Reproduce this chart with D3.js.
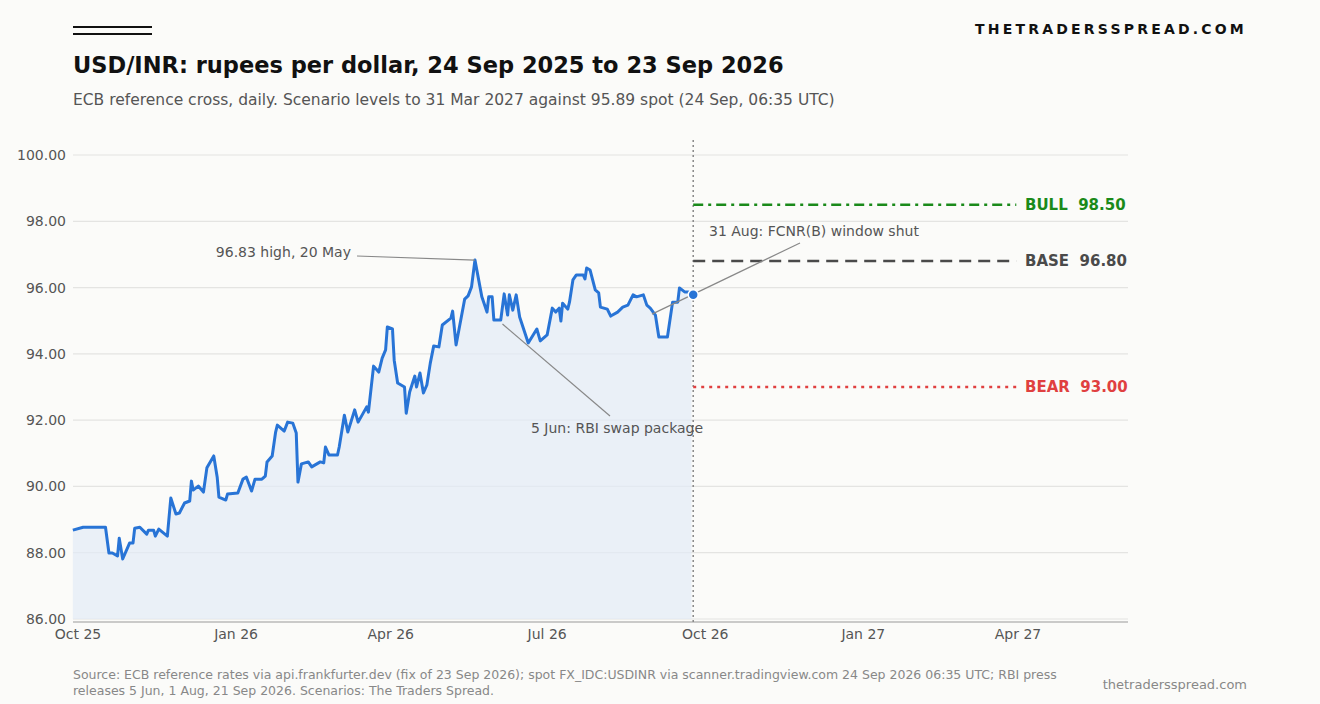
<!DOCTYPE html>
<html><head><meta charset="utf-8">
<script src="https://cdn.jsdelivr.net/npm/d3@7"></script>
<style>body{margin:0;background:#fbfbf9;font-family:"DejaVu Sans",sans-serif}</style>
</head><body><svg id="c" width="1320" height="704"></svg>
<script>
// days since 2025-10-01
const days=[-3,3,15,16,18,20,23,24,26,30,32,33,36,40,41,44,45,47,52,54,57,59,62,65,66,67,70,73,75,79,81,82,86,87,93,96,98,101,103,107,109,110,113,115,116,120,122,125,127,128,130,134,136,141,143,144,146,151,152,155,157,161,163,168,169,172,175,177,179,180,183,184,186,190,191,193,196,197,199,201,203,205,207,210,212,217,218,220,225,227,229,231,235,238,239,241,242,246,248,250,251,253,255,257,262,267,269,273,276,278,280,281,282,285,286,288,290,294,295,296,298,301,303,304,308,310,314,317,320,323,325,329,331,333,336,338,343,346,349,350,353,355,357];
const rates=[88.68,88.77,88.77,88.77,87.99,87.99,87.90,88.44,87.81,88.29,88.29,88.74,88.77,88.56,88.68,88.68,88.50,88.71,88.50,89.65,89.17,89.20,89.50,89.56,90.16,89.89,90.01,89.83,90.56,90.92,90.28,89.68,89.59,89.77,89.80,90.22,90.28,89.86,90.22,90.22,90.31,90.74,90.92,91.64,91.85,91.67,91.94,91.91,91.61,90.13,90.68,90.74,90.59,90.74,90.71,91.19,90.95,90.95,91.19,92.15,91.64,92.31,91.94,92.40,92.24,93.63,93.45,93.87,94.12,94.81,94.75,93.81,93.12,93.00,92.21,92.85,93.33,93.00,93.42,92.82,93.06,93.72,94.24,94.21,94.87,95.08,95.29,94.27,95.65,95.75,96.02,96.83,95.72,95.26,95.72,95.72,95.02,95.02,95.81,95.17,95.78,95.32,95.78,95.11,94.33,94.75,94.39,94.57,95.38,95.26,95.38,94.99,95.53,95.35,95.56,96.23,96.38,96.38,96.26,96.59,96.53,95.93,95.84,95.41,95.35,95.14,95.26,95.41,95.47,95.78,95.72,95.78,95.47,95.38,95.17,94.51,94.51,95.56,95.56,95.99,95.87,95.87,95.84];
const spotDate="2026-09-24", spotValue=95.78;
const scenNames=["BULL","BASE","BEAR"], scenValues=[98.50,96.80,93.00], scenColors=["#1a8a1a","#4a4a4a","#e04040"], scenDash=["10,5,3,5","12,7","3,5"];
const yTicks=[86,88,90,92,94,96,98,100];
const xTickDates=["2025-10-01","2026-01-01","2026-04-01","2026-07-01","2026-10-01","2027-01-01","2027-04-01"];
const xTickLabels=["Oct 25","Jan 26","Apr 26","Jul 26","Oct 26","Jan 27","Apr 27"];
const scenEnd="2027-03-31";

const svg=d3.select("#c");
const P=d3.timeParse("%Y-%m-%d");
const base=P("2025-10-01");
const data=days.map((d,i)=>({d:d3.timeDay.offset(base,d),v:rates[i]}));
const x=d3.scaleTime().domain([P("2025-10-01"),P("2027-04-01")]).range([78,1018]);
const y=d3.scaleLinear().domain([86,100]).range([619,155]);
const L=73,R=1128;

svg.append("g").selectAll("line").data(yTicks).join("line").attr("x1",L).attr("x2",R).attr("y1",d=>y(d)).attr("y2",d=>y(d)).attr("stroke","#e4e4e2").attr("stroke-width",1.2);
svg.append("g").selectAll("text").data(yTicks).join("text").attr("x",66).attr("y",d=>y(d)+5).attr("text-anchor","end").attr("font-size",14).attr("fill","#555").text(d=>d.toFixed(2));
svg.append("line").attr("x1",L).attr("x2",R).attr("y1",622).attr("y2",622).attr("stroke","#999");
svg.append("g").selectAll("text").data(xTickDates).join("text").attr("x",d=>x(P(d))).attr("y",639).attr("text-anchor","middle").attr("font-size",14).attr("fill","#555").text((d,i)=>xTickLabels[i]);

svg.append("path").datum(data).attr("fill","#e3ebf7").attr("opacity",0.7).attr("d",d3.area().x(d=>x(d.d)).y0(619).y1(d=>y(d.v)));
svg.append("path").datum(data).attr("fill","none").attr("stroke","#2874d6").attr("stroke-width",3).attr("stroke-linejoin","round").attr("d",d3.line().x(d=>x(d.d)).y(d=>y(d.v)));

const sx=x(P(spotDate));
svg.append("line").attr("x1",sx).attr("x2",sx).attr("y1",140).attr("y2",622).attr("stroke","#888").attr("stroke-width",1.5).attr("stroke-dasharray","2,3");
scenNames.forEach((n,i)=>{
  svg.append("line").attr("x1",sx).attr("x2",x(P(scenEnd))).attr("y1",y(scenValues[i])).attr("y2",y(scenValues[i])).attr("stroke",scenColors[i]).attr("stroke-width",2.5).attr("stroke-dasharray",scenDash[i]);
  svg.append("text").attr("x",1025).attr("y",y(scenValues[i])+5).attr("font-size",15).attr("font-weight","bold").attr("fill",scenColors[i]).attr("xml:space","preserve").text(n+"  "+scenValues[i].toFixed(2));
});

function ann(dx,dv,tx,ty,txt,anchor,lx,ly){
  svg.append("line").attr("x1",lx).attr("y1",ly).attr("x2",x(d3.timeDay.offset(base,dx))).attr("y2",y(dv)).attr("stroke","#888").attr("stroke-width",1.2);
  svg.append("text").attr("x",tx).attr("y",ty).attr("text-anchor",anchor).attr("font-size",14).attr("fill","#555").text(txt);
}
ann(231,96.83,351,257,"96.83 high, 20 May","end",357,256);
ann(247,94.9,531,433,"5 Jun: RBI swap package","start",610,416);
ann(334,95.2,709,236,"31 Aug: FCNR(B) window shut","start",800,243);
svg.append("circle").attr("cx",sx).attr("cy",y(spotValue)).attr("r",5).attr("fill","#2874d6").attr("stroke","#fff").attr("stroke-width",1.5);

svg.append("line").attr("x1",73).attr("x2",152).attr("y1",27).attr("y2",27).attr("stroke","#111").attr("stroke-width",2);
svg.append("line").attr("x1",73).attr("x2",152).attr("y1",34).attr("y2",34).attr("stroke","#111").attr("stroke-width",2);
svg.append("text").attr("x",1247).attr("y",34).attr("text-anchor","end").attr("font-size",14).attr("font-weight","bold").attr("letter-spacing",3.2).attr("fill","#111").text("THETRADERSSPREAD.COM");
svg.append("text").attr("x",73).attr("y",73).attr("font-size",22.5).attr("font-weight","bold").attr("fill","#111").text("USD/INR: rupees per dollar, 24 Sep 2025 to 23 Sep 2026");
svg.append("text").attr("x",73).attr("y",105).attr("font-size",15.5).attr("fill","#555").text("ECB reference cross, daily. Scenario levels to 31 Mar 2027 against 95.89 spot (24 Sep, 06:35 UTC)");
svg.append("text").attr("x",73).attr("y",679).attr("font-size",12.5).attr("fill","#888").text("Source: ECB reference rates via api.frankfurter.dev (fix of 23 Sep 2026); spot FX_IDC:USDINR via scanner.tradingview.com 24 Sep 2026 06:35 UTC; RBI press");
svg.append("text").attr("x",73).attr("y",695).attr("font-size",12.5).attr("fill","#888").text("releases 5 Jun, 1 Aug, 21 Sep 2026. Scenarios: The Traders Spread.");
svg.append("text").attr("x",1247).attr("y",689).attr("text-anchor","end").attr("font-size",13).attr("fill","#888").text("thetradersspread.com");
</script></body></html>
